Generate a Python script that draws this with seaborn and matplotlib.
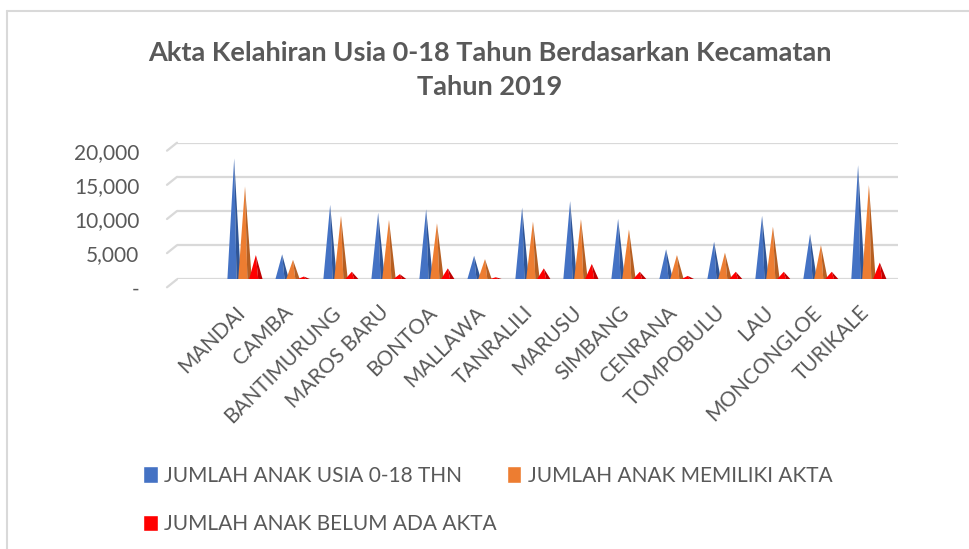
import matplotlib
matplotlib.use("Agg")
import matplotlib.pyplot as plt
from matplotlib.patches import Polygon, Patch
from matplotlib.lines import Line2D
from matplotlib.ticker import FuncFormatter
from matplotlib import transforms
import seaborn as sns
import pandas as pd

# data
kecamatan = ['MANDAI', 'CAMBA', 'BANTIMURUNG', 'MAROS BARU', 'BONTOA', 'MALLAWA',
             'TANRALILI', 'MARUSU', 'SIMBANG', 'CENRANA', 'TOMPOBULU', 'LAU',
             'MONCONGLOE', 'TURIKALE']
jumlah_anak = [17700, 3650, 10900, 9750, 10250, 3450, 10500, 11450, 8850, 4400, 5500, 9300, 6650, 16700]
punya_akta = [13600, 2850, 9300, 8700, 8200, 2950, 8450, 8800, 7300, 3550, 3900, 7700, 5000, 13800]
belum_akta = [3550, 400, 1100, 750, 1600, 300, 1600, 2250, 1100, 500, 1100, 1100, 1100, 2450]
seri = ['JUMLAH ANAK USIA 0-18 THN', 'JUMLAH ANAK MEMILIKI AKTA', 'JUMLAH ANAK BELUM ADA AKTA']

warna = ['#4472C4', '#ED7D31', '#FF0000']
warna_gelap = ['#2F5597', '#B65F22', '#C00000']
teks = '#595959'
grid = '#D9D9D9'

df = pd.DataFrame({
    'kecamatan': kecamatan * 3,
    'nilai': jumlah_anak + punya_akta + belum_akta,
    'seri': [s for s in seri for _ in kecamatan],
})

sns.set_theme(style='white')
plt.rcParams['font.family'] = ['Lato', 'DejaVu Sans']

fig = plt.figure(figsize=(9.69, 5.49), dpi=100)
ax = fig.add_axes([177 / 969, 1 - 279.3 / 549, (897.7 - 177) / 969, (279.3 - 142.7) / 549])

sns.barplot(data=df, x='kecamatan', y='nilai', hue='seri', palette=warna,
            width=0.678, dodge=True, legend=False, ax=ax)

# ganti batang jadi piramida
for i, cont in enumerate(ax.containers):
    for bar in cont:
        x0, w, h = bar.get_x(), bar.get_width(), bar.get_height()
        bar.set_visible(False)
        cx = x0 + w / 2
        half = w * 1.25 / 2
        split = cx + half * 0.35
        depan = Polygon([(cx - half, 0), (split, 0), (cx, h)], closed=True,
                        facecolor=warna[i], edgecolor='none', zorder=3 + i)
        samping = Polygon([(split, 0), (cx + half, 0), (cx, h)], closed=True,
                          facecolor=warna_gelap[i], edgecolor='none', zorder=3 + i)
        ax.add_patch(depan)
        ax.add_patch(samping)

ax.set_xlim(-1.417, 13.6)
ax.set_ylim(0, 20000)
ax.set_yticks([0, 5000, 10000, 15000, 20000])
ax.yaxis.set_major_formatter(FuncFormatter(lambda v, p: '-' if v == 0 else f'{v:,.0f}'))
ax.yaxis.grid(True, color=grid, linewidth=1.6, zorder=0)
ax.set_axisbelow(True)
for s in ax.spines.values():
    s.set_visible(False)
ax.set_xlabel('')
ax.set_ylabel('')
ax.tick_params(axis='y', length=0, pad=27, labelsize=15, labelcolor=teks)
ax.tick_params(axis='x', length=0, pad=10, labelsize=15, labelcolor=teks)

geser = transforms.ScaledTranslation(0, -8 / 100, fig.dpi_scale_trans)
for lab in ax.get_yticklabels():
    lab.set_transform(lab.get_transform() + geser)
geser_x = transforms.ScaledTranslation(-10 / 100, -9 / 100, fig.dpi_scale_trans)
for lab in ax.get_xticklabels():
    lab.set_rotation(45)
    lab.set_ha('right')
    lab.set_rotation_mode('anchor')
    lab.set_transform(lab.get_transform() + geser_x)

# ujung kiri garis grid (efek 3D)
ax_w = ax.get_position().width * 969
per_px = 20000 / 136.6
for v in [0, 5000, 10000, 15000, 20000]:
    ax.plot([-10 / ax_w, 0], [v - 8 * per_px, v], color=grid, lw=1.6,
            transform=ax.get_yaxis_transform(), clip_on=False, zorder=0)

fig.text(490 / 969, 1 - 70 / 549,
         'Akta Kelahiran Usia 0-18 Tahun Berdasarkan Kecamatan\nTahun 2019',
         ha='center', va='center', fontsize=19.5, fontweight='bold', color=teks,
         linespacing=1.5)

handles = [Patch(facecolor=warna[0]), Patch(facecolor=warna[2]), Patch(facecolor=warna[1])]
labels = [seri[0], seri[2], seri[1]]
fig.legend(handles, labels, loc='upper left', bbox_to_anchor=(143 / 969, 1 - 466 / 549),
           ncol=2, frameon=False, fontsize=15, labelcolor=teks, borderpad=0,
           borderaxespad=0, handlelength=0.7, handleheight=0.85, handletextpad=0.3,
           columnspacing=0.5, labelspacing=1.35)

# bingkai
fig.add_artist(Line2D([6.5 / 969, 6.5 / 969], [0, 1 - 11 / 549], color=grid, lw=1.5))
fig.add_artist(Line2D([6.5 / 969, 1], [1 - 11 / 549, 1 - 11 / 549], color=grid, lw=1.5))

fig.savefig('out.png', dpi=100)
